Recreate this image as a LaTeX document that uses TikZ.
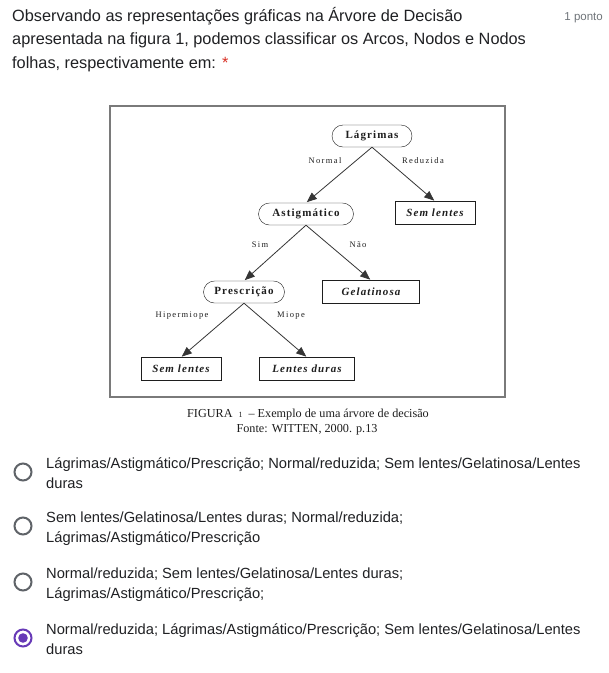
\documentclass[tikz,border=0pt]{standalone}
\usepackage{fontspec}
\setmainfont{Liberation Sans}
\newfontfamily\treefont[LetterSpace=10]{Liberation Serif}
\newfontfamily\edgefont[LetterSpace=16]{Liberation Serif}
\newfontfamily\capfont{Liberation Serif}
\usepackage{xcolor}
\definecolor{formtext}{HTML}{202124}
\definecolor{formgray}{HTML}{70757A}
\definecolor{formred}{HTML}{D93025}
\definecolor{formviolet}{HTML}{673AB7}
\definecolor{radiogray}{HTML}{5F6368}
\definecolor{treeink}{HTML}{1E1E1E}
\definecolor{framegray}{HTML}{7A7A7A}
\usetikzlibrary{
  arrows.meta,
  positioning
}

\begin{document}
\begin{tikzpicture}[x=1pt, y=-1pt,
  question/.style={anchor=base west, inner sep=0pt, text=formtext,
    font=\fontsize{16.3}{20}\selectfont},
  answer/.style={anchor=base west, inner sep=0pt, text=formtext,
    font=\fontsize{14.7}{18}\selectfont},
  decision/.style={draw=treeink, rounded corners=11pt, minimum height=22pt,
    inner xsep=0pt, text=treeink,
    font=\treefont\fontsize{11}{13}\selectfont\bfseries},
  leaf/.style={draw=treeink, minimum height=23pt, inner xsep=0pt, text=treeink,
    font=\treefont\fontsize{11}{13}\selectfont\bfseries\itshape},
  edgelabel/.style={inner sep=0pt, text=treeink,
    font=\edgefont\fontsize{8.5}{10}\selectfont},
  branch/.style={draw=treeink!90, line width=0.8pt,
    -{Triangle[length=10pt, width=8pt]}, shorten >=1pt},
  caption/.style={anchor=base, inner sep=0pt, text=treeink,
    font=\capfont\fontsize{12.2}{14}\selectfont},
  radio/.style={circle, draw=radiogray, line width=2pt, minimum size=17pt,
    inner sep=0pt}
]

  %% Page
  \fill[white] (0,0) rectangle (609,673);
  \useasboundingbox (0,0) rectangle (609,673);

  %% Question
  \node[question] (q1) at (12,21)
    {Observando as representações gráficas na Árvore de Decisão};
  \node[question] (q2) at (12,44)
    {apresentada na figura 1, podemos classificar os Arcos, Nodos e Nodos};
  \node[question] (q3) at (12,68)
    {folhas, respectivamente em: \textcolor{formred}{*}};
  \node[anchor=base east, inner sep=0pt, text=formgray,
    font=\fontsize{11.5}{14}\selectfont] (pts) at (603,20) {1 ponto};

  %% Figure frame
  \draw[framegray, line width=1.3pt] (110,106) rectangle (505,397);

  %% Tree nodes
  \node[decision, minimum width=80pt] (lagrimas) at (372,136) {Lágrimas};
  \node[decision, minimum width=95pt] (astig) at (306,214) {Astigmático};
  \node[leaf, minimum width=80pt] (semA) at (435,213) {Sem lentes};
  \node[decision, minimum width=81pt] (presc) at (244,292) {Prescrição};
  \node[leaf, minimum width=97pt] (gelat) at (371,292) {Gelatinosa};
  \node[leaf, minimum width=80pt] (semB) at (181,369) {Sem lentes};
  \node[leaf, minimum width=95pt] (duras) at (307,369) {Lentes duras};

  %% Branches
  \draw[branch] (lagrimas.south) -- (astig.north);
  \draw[branch] (lagrimas.south) -- (semA.north);
  \draw[branch] (astig.south) -- (presc.north);
  \draw[branch] (astig.south) -- (gelat.north);
  \draw[branch] (presc.south) -- (semB.north);
  \draw[branch] (presc.south) -- (duras.north);

  %% Branch labels
  \node[edgelabel] (lnormal) at (325,161) {Normal};
  \node[edgelabel] (lreduz) at (423,161) {Reduzida};
  \node[edgelabel] (lsim) at (260,245) {Sim};
  \node[edgelabel] (lnao) at (358,245) {Não};
  \node[edgelabel] (lhiper) at (182,316) {Hipermiope};
  \node[edgelabel] (lmiope) at (291,316) {Miope};

  %% Caption
  \node[caption] (cap1) at (308,417)
    {FIGURA\hspace{6pt}{\fontsize{8}{9}\selectfont 1}\hspace{6pt}– Exemplo de uma árvore de decisão};
  \node[caption] (cap2) at (307,432) {Fonte: WITTEN, 2000. p.13};

  %% Answer options
  \node[radio] (r1) at (23,472) {};
  \node[radio] (r2) at (23,526) {};
  \node[radio] (r3) at (23,582) {};
  \node[radio, draw=formviolet] (r4) at (23,638) {};
  \fill[formviolet] (r4) circle (4.8pt);

  \node[answer] (a1) at (46,468)
    {Lágrimas/Astigmático/Prescrição; Normal/reduzida; Sem lentes/Gelatinosa/Lentes};
  \node[answer] (a1b) at (46,488) {duras};
  \node[answer] (a2) at (46,522)
    {Sem lentes/Gelatinosa/Lentes duras; Normal/reduzida;};
  \node[answer] (a2b) at (46,542) {Lágrimas/Astigmático/Prescrição};
  \node[answer] (a3) at (46,578)
    {Normal/reduzida; Sem lentes/Gelatinosa/Lentes duras;};
  \node[answer] (a3b) at (46,598) {Lágrimas/Astigmático/Prescrição;};
  \node[answer] (a4) at (46,634)
    {Normal/reduzida; Lágrimas/Astigmático/Prescrição; Sem lentes/Gelatinosa/Lentes};
  \node[answer] (a4b) at (46,654) {duras};

\end{tikzpicture}
\end{document}
